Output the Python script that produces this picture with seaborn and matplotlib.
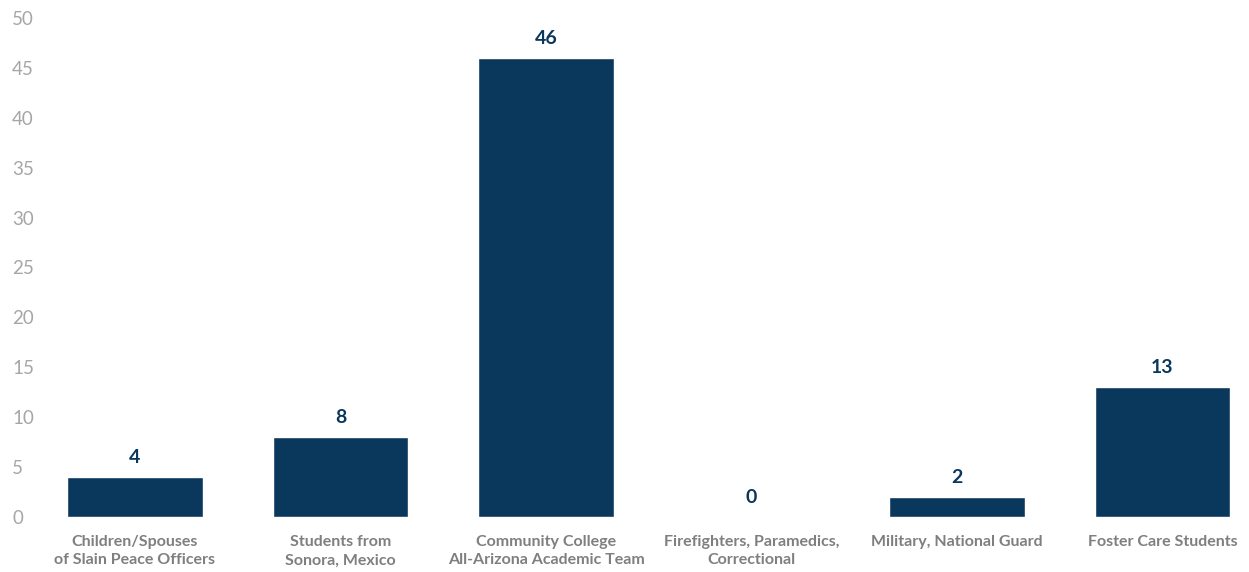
import matplotlib
matplotlib.use("Agg")
import matplotlib.pyplot as plt
import seaborn as sns
import pandas as pd

categories = [
    "Children/Spouses\nof Slain Peace Officers",
    "Students from\nSonora, Mexico",
    "Community College\nAll-Arizona Academic Team",
    "Firefighters, Paramedics,\nCorrectional",
    "Military, National Guard",
    "Foster Care Students",
]
values = [4, 8, 46, 0, 2, 13]
yticks = [0, 5, 10, 15, 20, 25, 30, 35, 40, 45, 50]

sns.set_style("white")
plt.rcParams["font.family"] = ["Lato", "DejaVu Sans"]

df = pd.DataFrame({"category": categories, "value": values})

fig = plt.figure(figsize=(12.49, 5.72), dpi=100)
ax = fig.add_axes([32.25 / 1249, 1 - 517 / 572, (1248.8 - 32.25) / 1249, (517 - 18) / 572])

sns.barplot(data=df, x="category", y="value", color="#0a385c", saturation=1,
            width=0.66, ax=ax)

for i, v in enumerate(values):
    ax.annotate(str(v), xy=(i, v), xytext=(0, 8), textcoords="offset points",
                ha="center", va="bottom", fontsize=14, fontweight="bold",
                color="#0a385c")

ax.set_xlim(-0.5, 5.42)
ax.set_ylim(0, 50)
ax.set_yticks(yticks)
ax.set_yticklabels([str(t) for t in yticks], fontsize=13.5, color="#a6a6a6")
ax.tick_params(axis="y", length=0, pad=14.5)
ax.tick_params(axis="x", length=0, pad=13)
for lab in ax.get_xticklabels():
    lab.set_fontsize(11.5)
    lab.set_fontweight("bold")
    lab.set_color("#7f7f7f")
    lab.set_linespacing(1.4)
for lab in ax.get_yticklabels():
    lab.set_horizontalalignment("left")
ax.set_xlabel("")
ax.set_ylabel("")
sns.despine(ax=ax, left=True, bottom=True)
ax.grid(False)

fig.savefig("out.png", dpi=100)
